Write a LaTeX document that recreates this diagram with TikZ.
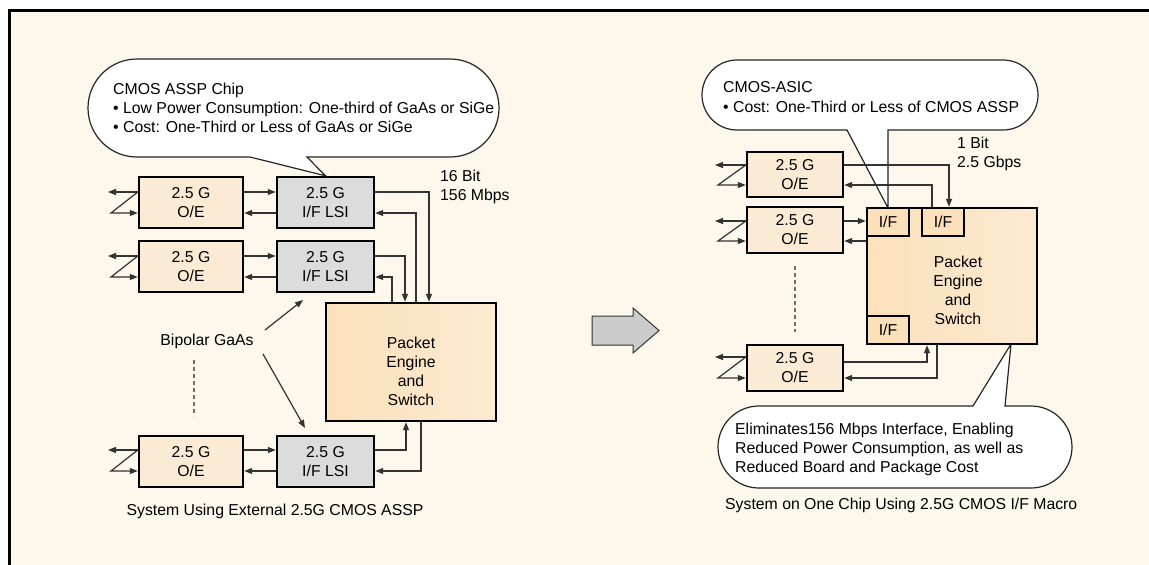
\documentclass[tikz,border=0pt]{standalone}
\usepackage{fontspec}
\setmainfont{Liberation Sans}
\usetikzlibrary{arrows.meta}
\definecolor{bg}{HTML}{FEF7EC}
\definecolor{oefill}{HTML}{FCEBD4}
\definecolor{pkfill}{HTML}{FBE0BA}
\definecolor{pkfillb}{HTML}{FCEAD2}
\definecolor{lsifill}{HTML}{DCDCDC}
\definecolor{bigarrow}{HTML}{CCCCCC}
\definecolor{dashgray}{HTML}{6E6E6E}
\definecolor{linecol}{HTML}{333333}
\newcommand\oeloop[4]{%
  \draw[arr] (#1.west |- 0,#2) -- (#4,#2);
  \draw[arr] (#1.west |- 0,#2) -- (#4+3,#3) -- (#1.west |- 0,#3);}
\begin{document}
\begin{tikzpicture}[x=1pt,y=-1pt,
  every node/.append style={font=\fontsize{15.8}{19}\selectfont, text=black},
  box/.style={draw=black, line width=2.4pt, inner sep=0pt, align=center},
  oe/.style={box, fill=oefill},
  lsi/.style={box, fill=lsifill, minimum width=97pt, minimum height=51pt},
  pk/.style={box, left color=pkfill, right color=pkfillb, minimum width=170pt},
  iface/.style={box, fill=pkfill, minimum width=42pt, minimum height=28pt},
  conn/.style={draw=linecol, line width=1.2pt},
  arr/.style={conn, -{Triangle[length=8pt,width=6pt]}},
  txt/.style={inner sep=0pt, anchor=base west, align=left},
  ctxt/.style={inner sep=0pt, align=center},
  callout/.style={draw=black!85, line width=1.2pt, fill=white},
  dashline/.style={draw=dashgray, line width=1.2pt, dash pattern=on 4pt off 3pt},
]
\useasboundingbox (0,0) rectangle (1149,565);
% frame
\fill[white] (0,0) rectangle (1149,565);
\fill[bg] (9,10) rectangle (1149,565);
\draw[line width=3pt] (1149,10) -- (9,10) -- (9,565);

% ---------- left system ----------
\node[oe, minimum width=104pt, minimum height=51pt] (oeA) at (191,202.5) {2.5 G\\O/E};
\node[lsi] (lsiA) at (325.5,202.5) {2.5 G\\I/F LSI};
\node[oe, minimum width=104pt, minimum height=51pt] (oeB) at (191,266.5) {2.5 G\\O/E};
\node[lsi] (lsiB) at (325.5,266.5) {2.5 G\\I/F LSI};
\node[oe, minimum width=104pt, minimum height=51pt] (oeC) at (191,461.5) {2.5 G\\O/E};
\node[lsi] (lsiC) at (325.5,461.5) {2.5 G\\I/F LSI};
\node[pk, minimum height=118pt] (pkA) at (411,362) {};
\node[ctxt] (pkAt) at (411,371) {Packet\\Engine\\and\\Switch};

% callout left
\path[callout] (250,157) -- (lsiA.north) -- (307,157) -- (450,157)
  arc[start angle=90,end angle=-90,radius=49] -- (137,59)
  arc[start angle=270,end angle=90,radius=49] -- cycle;
\node[txt] (cA1) at (113,94.5) {CMOS ASSP Chip};
\node[txt] (cA2) at (113,113.5) {• Low Power Consumption: One-third of GaAs or SiGe};
\node[txt] (cA3) at (113,132.5) {• Cost: One-Third or Less of GaAs or SiGe};

% connectors left
\oeloop{oeA}{192}{213}{108}
\oeloop{oeB}{256}{277}{108}
\oeloop{oeC}{450}{471}{108}
\draw[arr] (oeA.east |- 0,192) -- (lsiA.west |- 0,192);
\draw[arr] (lsiA.west |- 0,213) -- (oeA.east |- 0,213);
\draw[arr] (oeB.east |- 0,256) -- (lsiB.west |- 0,256);
\draw[arr] (lsiB.west |- 0,277) -- (oeB.east |- 0,277);
\draw[arr] (oeC.east |- 0,450) -- (lsiC.west |- 0,450);
\draw[arr] (lsiC.west |- 0,471) -- (oeC.east |- 0,471);
\draw[arr] (lsiA.east |- 0,192) -| (pkA.north -| 429,0);
\draw[arr] (pkA.north -| 416,0) |- (lsiA.east |- 0,213);
\draw[arr] (lsiB.east |- 0,256) -| (pkA.north -| 405,0);
\draw[arr] (pkA.north -| 392,0) |- (lsiB.east |- 0,277);
\draw[arr] (lsiC.east |- 0,450) -| (pkA.south -| 406,0);
\draw[arr] (pkA.south -| 421,0) |- (lsiC.east |- 0,471);
\node[txt] (bw) at (440,200.5) {16 Bit\\156 Mbps};

\node[ctxt] (bip) at (207,341) {Bipolar GaAs};
\coordinate (bipS1) at (265,330);
\coordinate (bipS2) at (263,354);
\coordinate (bipT1) at (303,300);
\coordinate (bipT2) at (305,428);
\draw[arr] (bipS1) -- (bipT1);
\draw[arr] (bipS2) -- (bipT2);
\draw[dashline] (194,360) -- (194,416);
\node[ctxt] (capA) at (275,511) {System Using External 2.5G CMOS ASSP};

% ---------- big arrow ----------
\filldraw[fill=bigarrow, draw=black!80, line width=1pt]
  (592,316) -- (633,316) -- (633,308) -- (659,330.5) -- (633,353) -- (633,345) -- (592,345) -- cycle;

% ---------- right system ----------
\path[callout] (847,130) -- (888,208) -- (888,130) -- (1003,130)
  arc[start angle=90,end angle=-90,radius=35] -- (737,60)
  arc[start angle=270,end angle=90,radius=35] -- cycle;
\node[txt] (cB1) at (723,92.5) {CMOS-ASIC};
\node[txt] (cB2) at (723,112.5) {• Cost: One-Third or Less of CMOS ASSP};

\path[callout] (973,406) -- (1011,344) -- (1005,406) -- (1031,406)
  arc[start angle=-90,end angle=90,radius=41] -- (759,488)
  arc[start angle=90,end angle=270,radius=41] -- cycle;
\node[txt] (cC1) at (735,434.5) {Eliminates156 Mbps Interface, Enabling};
\node[txt] (cC2) at (735,453.5) {Reduced Power Consumption, as well as};
\node[txt] (cC3) at (735,472.5) {Reduced Board and Package Cost};

\node[oe, minimum width=96pt, minimum height=45pt] (oeD) at (795,174.5) {2.5 G\\O/E};
\node[oe, minimum width=96pt, minimum height=46pt] (oeE) at (795,230) {2.5 G\\O/E};
\node[oe, minimum width=96pt, minimum height=46pt] (oeF) at (795,368) {2.5 G\\O/E};
\node[pk, minimum height=136pt] (pkB) at (952,276) {};
\node[ctxt] (pkBt) at (958,290) {Packet\\Engine\\and\\Switch};
\node[iface] (ifA) at (888,222) {I/F};
\node[iface] (ifB) at (943,222) {I/F};
\node[iface] (ifC) at (888,330) {I/F};

\oeloop{oeD}{165}{185}{715}
\oeloop{oeE}{221}{241}{715}
\oeloop{oeF}{357}{378}{715}
\draw[arr] (oeD.east |- 0,165) -| (ifB.north -| 949,0);
\draw[arr] (ifB.north -| 932,0) |- (oeD.east |- 0,185);
\draw[arr] (oeE.east |- 0,221) -- (ifA.west |- 0,221);
\draw[arr] (pkB.west |- 0,241) -- (oeE.east |- 0,241);
\draw[arr] (oeF.east |- 0,362) -| (pkB.south -| 927,0);
\draw[arr] (pkB.south -| 937,0) |- (oeF.east |- 0,378);
\node[txt] (bwB) at (957,167.5) {1 Bit\\2.5 Gbps};
\draw[dashline] (795,266) -- (795,332);
\node[txt] (capB) at (725,509.5) {System on One Chip Using 2.5G CMOS I/F Macro};
\end{tikzpicture}
\end{document}
